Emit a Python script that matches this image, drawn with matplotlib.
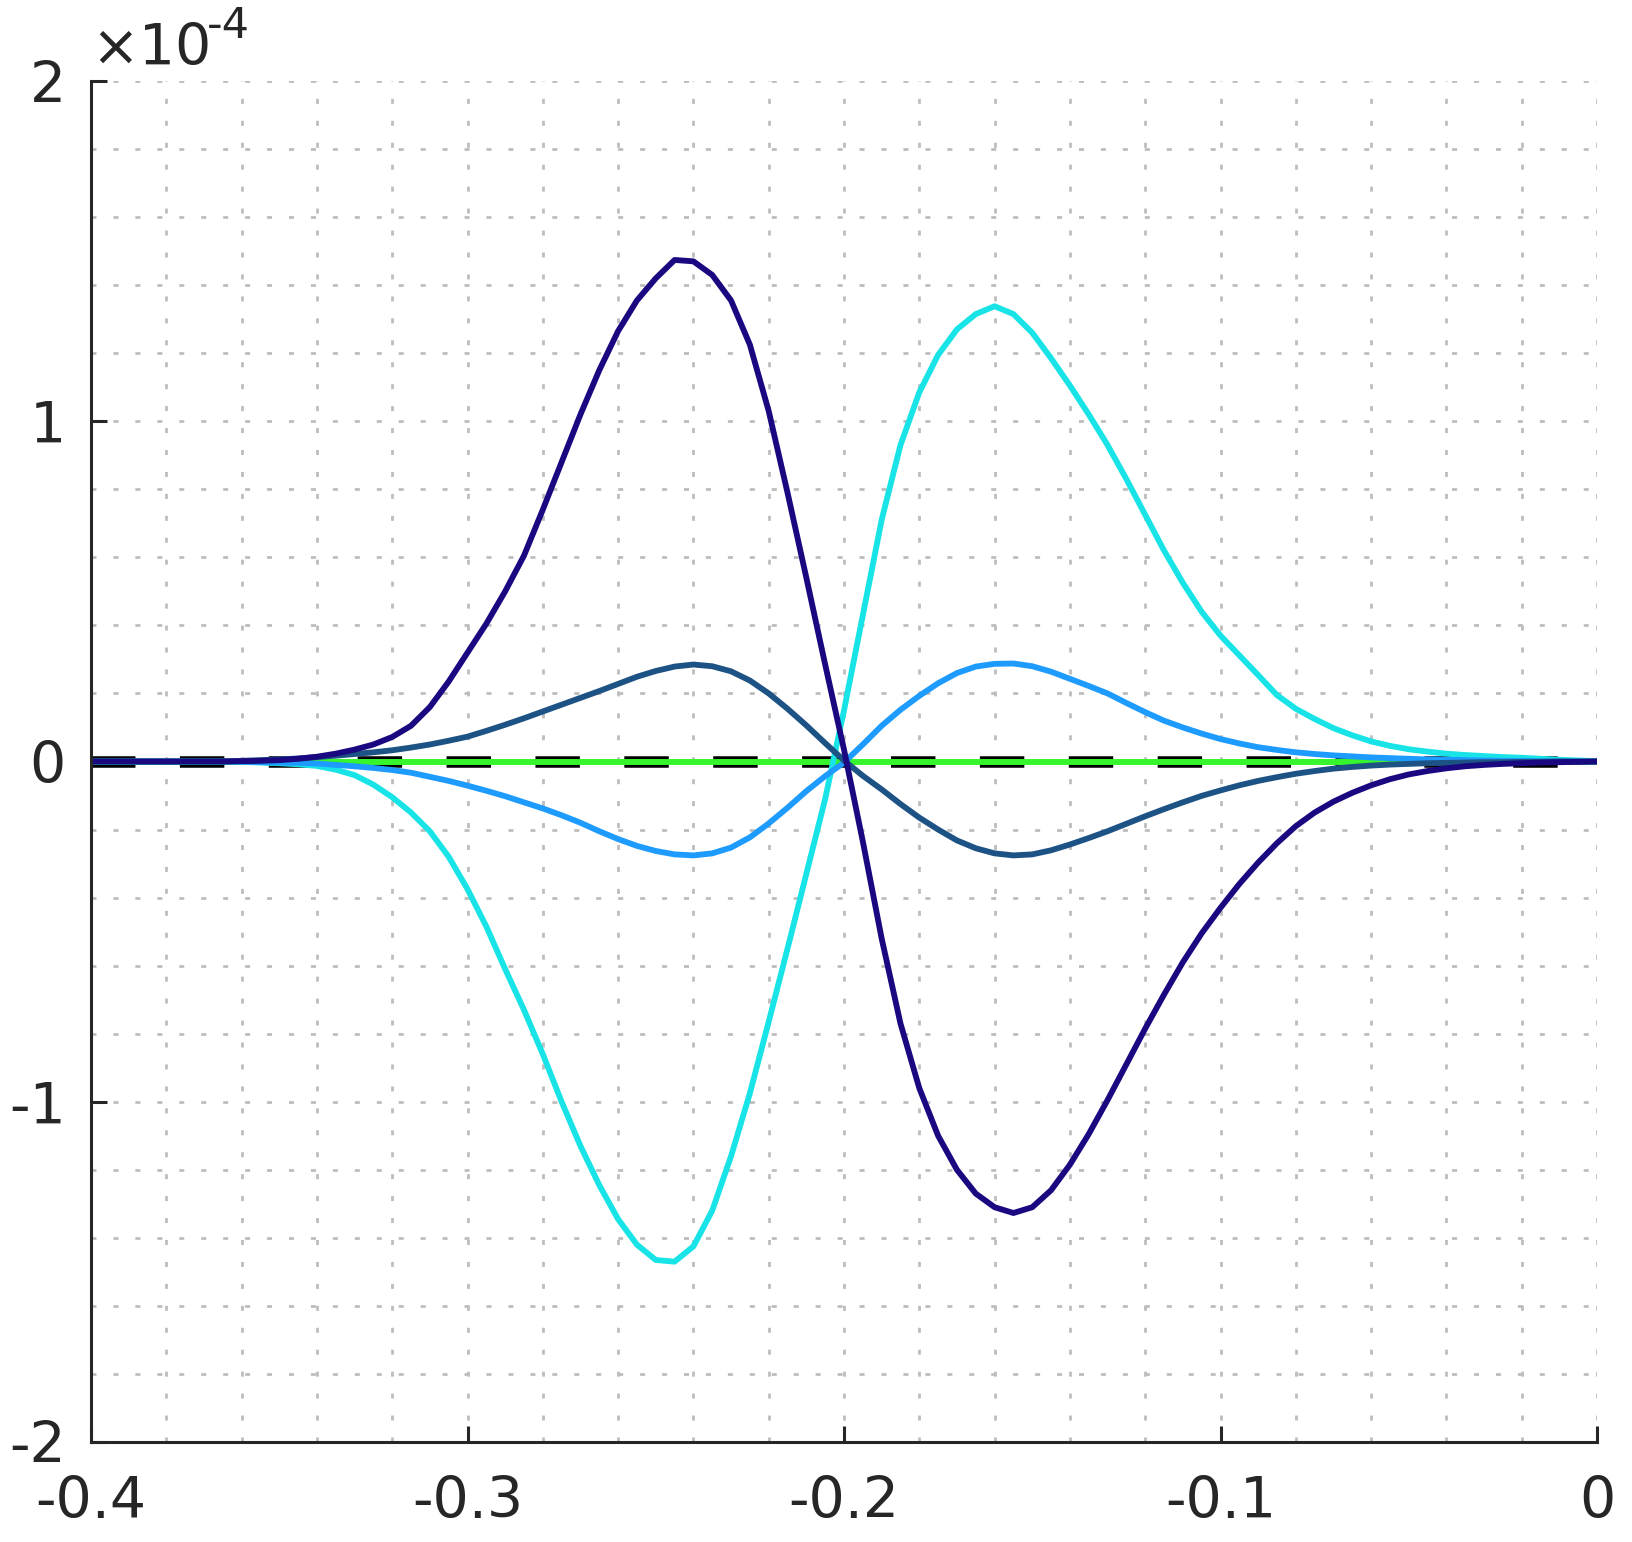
import numpy as np
import matplotlib
matplotlib.use('Agg')
import matplotlib.pyplot as plt
from matplotlib.ticker import MultipleLocator, FuncFormatter

plt.rcParams['font.family'] = ['DejaVu Sans']
plt.rcParams['lines.scale_dashes'] = False

# sample positions: -0.4 ... 0 every 0.005
x_vals = np.linspace(-0.4, 0.0, 81)

# values, in units of 1e-4
y_navy = [0, 0, 0, 0, 0, 0, 0, 0, 0.001, 0.002,
          0.004, 0.008, 0.014, 0.023, 0.035, 0.05, 0.072, 0.105, 0.16, 0.235,
          0.32, 0.405, 0.50, 0.605, 0.74, 0.88, 1.02, 1.15, 1.265, 1.355,
          1.42, 1.474, 1.47, 1.43, 1.355, 1.225, 1.03, 0.79, 0.54, 0.285,
          0.035, -0.235, -0.52, -0.77, -0.96, -1.10, -1.20, -1.27, -1.31, -1.327,
          -1.31, -1.26, -1.185, -1.095, -0.995, -0.89, -0.785, -0.685, -0.59, -0.505,
          -0.43, -0.36, -0.297, -0.24, -0.19, -0.15, -0.118, -0.092, -0.07, -0.052,
          -0.038, -0.028, -0.02, -0.014, -0.01, -0.007, -0.005, -0.003, -0.002, -0.001,
          0]

y_cyan = [0, 0, 0, 0, 0, 0, 0, 0, -0.001, -0.003,
          -0.005, -0.008, -0.013, -0.024, -0.04, -0.068, -0.105, -0.15, -0.205, -0.28,
          -0.375, -0.485, -0.61, -0.73, -0.86, -1.0, -1.13, -1.245, -1.345, -1.42,
          -1.465, -1.47, -1.425, -1.32, -1.16, -0.975, -0.765, -0.55, -0.33, -0.11,
          0.15, 0.43, 0.71, 0.93, 1.085, 1.195, 1.27, 1.315, 1.338, 1.315,
          1.26, 1.185, 1.105, 1.02, 0.93, 0.83, 0.725, 0.62, 0.525, 0.44,
          0.37, 0.312, 0.254, 0.195, 0.155, 0.125, 0.098, 0.077, 0.059, 0.046,
          0.036, 0.029, 0.023, 0.019, 0.016, 0.013, 0.011, 0.008, 0.005, 0.003,
          0.001]

y_steel = [0, 0, 0, 0, 0, 0, 0, 0, 0.002, 0.004,
           0.006, 0.009, 0.013, 0.017, 0.022, 0.027, 0.033, 0.041, 0.05, 0.061,
           0.073, 0.09, 0.108, 0.127, 0.147, 0.167, 0.187, 0.207, 0.228, 0.249,
           0.266, 0.279, 0.285, 0.28, 0.265, 0.238, 0.2, 0.155, 0.106, 0.054,
           0.003, -0.042, -0.082, -0.125, -0.165, -0.2, -0.232, -0.255, -0.27, -0.276,
           -0.273, -0.261, -0.244, -0.225, -0.205, -0.183, -0.161, -0.14, -0.12, -0.101,
           -0.085, -0.07, -0.057, -0.046, -0.036, -0.028, -0.021, -0.016, -0.012, -0.009,
           -0.007, -0.005, -0.004, -0.003, -0.002, -0.002, -0.001, -0.001, 0, 0,
           0]

y_dodger = [0, 0, 0, 0, 0, 0, 0, 0, -0.001, -0.002,
            -0.003, -0.004, -0.006, -0.01, -0.014, -0.019, -0.025, -0.033, -0.045, -0.057,
            -0.071, -0.086, -0.102, -0.12, -0.138, -0.158, -0.18, -0.205, -0.228, -0.248,
            -0.263, -0.273, -0.276, -0.27, -0.253, -0.223, -0.182, -0.136, -0.087, -0.043,
            -0.003, 0.05, 0.105, 0.152, 0.193, 0.23, 0.26, 0.279, 0.287, 0.288,
            0.28, 0.264, 0.243, 0.222, 0.2, 0.172, 0.145, 0.12, 0.1, 0.082,
            0.066, 0.053, 0.042, 0.034, 0.027, 0.022, 0.018, 0.015, 0.012, 0.01,
            0.008, 0.006, 0.005, 0.004, 0.003, 0.002, 0.002, 0.001, 0.001, 0,
            0]

x_flat = [-0.40, 0.0]
y_flat = [0.0, 0.0]

scale = 1e-4

fig = plt.figure(figsize=(16.33, 15.42), dpi=100)
ax = fig.add_axes([91/1633, 100/1542, 1506/1633, 1361/1542])

ax.plot(x_flat, np.array(y_flat)*scale, color='black', lw=8.3, dashes=(32, 32), zorder=2)
ax.plot(x_flat, np.array(y_flat)*scale, color='#36f52c', lw=4.3, zorder=3)
ax.plot(x_vals, np.array(y_cyan)*scale, color='#18e3e6', lw=4.2, zorder=4)
ax.plot(x_vals, np.array(y_dodger)*scale, color='#1e9bff', lw=4.2, zorder=5)
ax.plot(x_vals, np.array(y_steel)*scale, color='#1d5285', lw=4.2, zorder=6)
ax.plot(x_vals, np.array(y_navy)*scale, color='#190880', lw=4.2, zorder=7)

ax.set_xlim(-0.4, 0)
ax.set_ylim(-2e-4, 2e-4)
ax.xaxis.set_major_locator(MultipleLocator(0.1))
ax.xaxis.set_minor_locator(MultipleLocator(0.02))
ax.yaxis.set_major_locator(MultipleLocator(1e-4))
ax.yaxis.set_minor_locator(MultipleLocator(0.2e-4))
ax.xaxis.set_major_formatter(FuncFormatter(lambda v, p: f'{round(v, 3):g}'))
ax.yaxis.set_major_formatter(FuncFormatter(lambda v, p: f'{round(v/scale, 3):g}'))

ax.grid(which='both', color='#bdbdbd', lw=2.0, linestyle=(0, (3.6, 12.2)), zorder=0)
ax.set_axisbelow(True)

for s in ['top', 'right']:
    ax.spines[s].set_visible(False)
for s in ['left', 'bottom']:
    ax.spines[s].set_color('#262626')
    ax.spines[s].set_linewidth(2.2)
    ax.spines[s].set_zorder(10)

ax.tick_params(which='major', direction='in', length=11.5, width=2.2, color='#262626',
               labelsize=41, labelcolor='#262626')
ax.tick_params(axis='x', which='major', pad=24)
ax.tick_params(axis='y', which='major', pad=18)
ax.tick_params(which='minor', length=0)

fig.text(91/1633, 1 - 65/1542, '×10', fontsize=41, color='#262626', ha='left', va='baseline')
fig.text(207/1633, 1 - 38/1542, '-4', fontsize=31, color='#262626', ha='left', va='baseline')

fig.savefig('out.png', dpi=100)
